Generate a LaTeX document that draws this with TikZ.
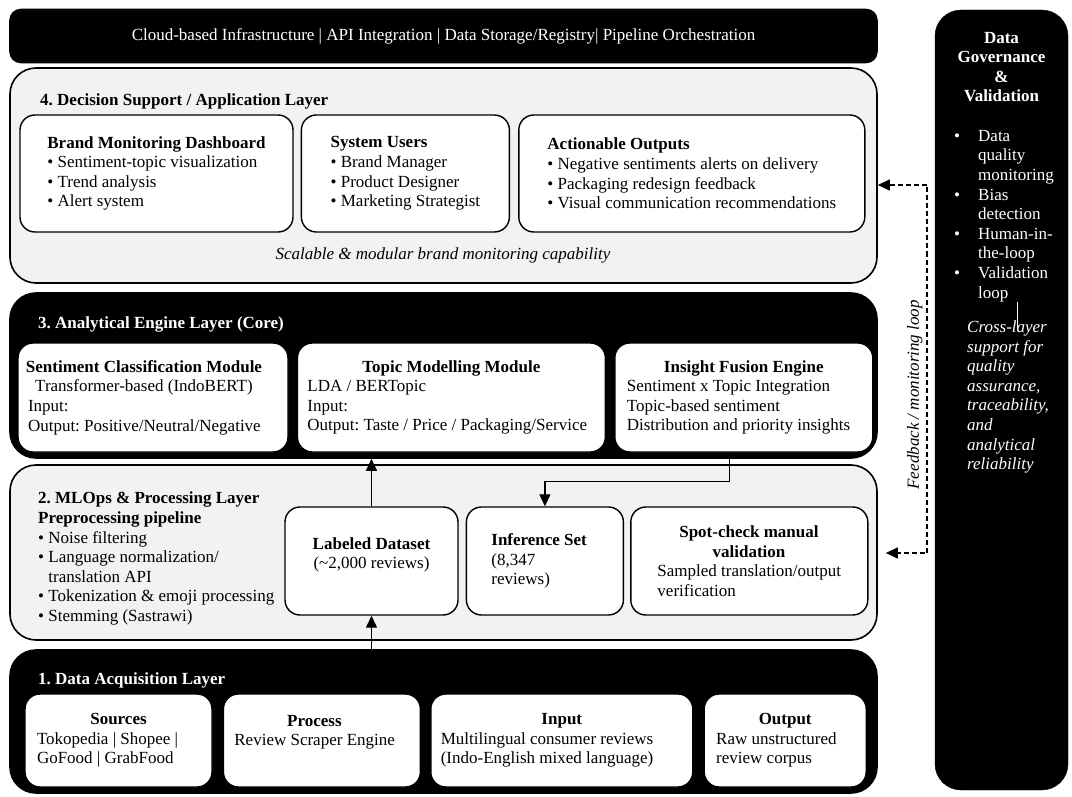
\documentclass[tikz,border=0pt]{standalone}
\usepackage{fontspec}
\setmainfont{Liberation Serif}
\usetikzlibrary{arrows.meta, positioning}
\definecolor{colLayer}{RGB}{242,242,242}
\frenchspacing
\newcommand\bodyfont{\fontsize{17pt}{19.6pt}\selectfont}
% centred bold heading in a box of given width
\newcommand\hd[2]{\makebox[#1]{\bfseries #2}}
\newcommand\bul{\textbullet\ }
\newcommand\gbul{\makebox[24pt][l]{\textbullet}}
\newcommand\gind{\hspace*{24pt}}
\tikzset{
  layerBox/.style={
    rectangle, rounded corners=26pt,
    draw=black, line width=1.6pt,
    minimum width=867pt
  },
  lightLayer/.style={layerBox, fill=colLayer},
  darkLayer/.style={layerBox, fill=black},
  modBox/.style={
    rectangle, rounded corners=15pt,
    draw=black, line width=1.4pt, fill=white,
    inner sep=0pt, align=left
  },
  layerTitle/.style={font=\bodyfont\bfseries, anchor=west, inner sep=0pt},
  arr/.style={
    -{Triangle[length=12pt, width=11pt]}, line width=1.3pt
  },
  fbArr/.style={
    {Triangle[length=12pt, width=11pt]}-{Triangle[length=12pt, width=11pt]},
    line width=1.2pt, dash pattern=on 5pt off 3pt
  },
  fbLabel/.style={font=\bodyfont\itshape, rotate=90, anchor=south, inner sep=4pt}
}
\begin{document}
\begin{tikzpicture}[x=1pt, y=-1pt, font=\bodyfont]
  \useasboundingbox (0,0) rectangle (1072,797);

  % infrastructure bar
  \node[darkLayer, rounded corners=11pt, minimum height=53pt, text=white] (infra) at (443.5,36)
    {Cloud-based Infrastructure | API Integration | Data Storage/Registry| Pipeline Orchestration};

  % layer 4
  \node[lightLayer, minimum height=215pt] (l4) at (443.5,175.5) {};
  \node[layerTitle] (l4title) at (40,101) {4. Decision Support / Application Layer};
  \node[modBox, minimum width=273pt, minimum height=117pt] (dash) at (156.5,173.5)
    {\textbf{Brand Monitoring Dashboard}\\\bul Sentiment-topic visualization\\\bul Trend analysis\\\bul Alert system};
  \node[modBox, minimum width=208pt, minimum height=117pt, right=7pt of dash] (users)
    {\textbf{System Users}\\\bul Brand Manager\\\bul Product Designer\\\bul Marketing Strategist};
  \node[modBox, minimum width=346pt, minimum height=117pt, right=8pt of users] (outputs)
    {\textbf{Actionable Outputs}\\\bul Negative sentiments alerts on delivery\\\bul Packaging redesign feedback\\\bul Visual communication recommendations};
  \node[font=\bodyfont\itshape] (l4note) at (443,255) {Scalable \& modular brand monitoring capability};

  % layer 3
  \node[darkLayer, minimum height=165pt] (l3) at (443.5,375.5) {};
  \node[layerTitle, text=white] (l3title) at (38,324) {3. Analytical Engine Layer (Core)};
  \node[modBox, minimum width=270pt, minimum height=109pt] (senti) at (153,397.5)
    {\makebox[250pt][l]{\hd{232pt}{Sentiment Classification Module}}\\\makebox[232pt]{Transformer-based (IndoBERT)}\\Input:\\Output: Positive/Neutral/Negative};
  \node[modBox, minimum width=308pt, minimum height=109pt, right=8pt of senti] (topic)
    {\hd{288pt}{Topic Modelling Module}\\LDA / BERTopic\\Input:\\Output: Taste / Price / Packaging/Service};
  \node[modBox, minimum width=258pt, minimum height=109pt, right=8pt of topic] (fusion)
    {\hd{234pt}{Insight Fusion Engine}\\Sentiment x Topic Integration\\Topic-based sentiment\\Distribution and priority insights};

  % layer 2
  \node[lightLayer, minimum height=175pt] (l2) at (443.5,552.5) {};
  \node[anchor=north west, inner sep=0pt, align=left] (prep) at (38,492)
    {\textbf{2. MLOps \& Processing Layer}\\\textbf{Preprocessing pipeline}\\\bul Noise filtering\\\bul Language normalization/\\\hphantom{\textbullet\ }translation API\\\bul Tokenization \& emoji processing\\\bul Stemming (Sastrawi)};
  \node[modBox, align=center, text depth=16pt, minimum width=173pt, minimum height=108pt] (labeled) at (371.5,561)
    {\textbf{Labeled Dataset}\\(\textasciitilde2,000 reviews)};
  \node[modBox, minimum width=157pt, minimum height=108pt, right=7pt of labeled] (infer)
    {\makebox[107pt][l]{\bfseries Inference Set}\\(8,347\\reviews)};
  \node[modBox, minimum width=237pt, minimum height=108pt, right=6pt of infer] (spot)
    {\hd{183pt}{Spot-check manual}\\\hd{183pt}{validation}\\Sampled translation/output\\verification};

  % layer 1
  \node[darkLayer, minimum height=143pt] (l1) at (443.5,721.5) {};
  \node[layerTitle, text=white] (l1title) at (38,680) {1. Data Acquisition Layer};
  \node[modBox, minimum width=187pt, minimum height=93pt] (src) at (118.5,740.5)
    {\hd{163pt}{Sources}\\Tokopedia | Shopee |\\GoFood | GrabFood};
  \node[modBox, text depth=20pt, minimum width=197pt, minimum height=93pt, right=10pt of src] (proc)
    {\makebox[175pt][l]{\hd{160pt}{Process}}\\Review Scraper Engine};
  \node[modBox, minimum width=262pt, minimum height=93pt, right=9pt of proc] (inp)
    {\hd{242pt}{Input}\\Multilingual consumer reviews\\(Indo-English mixed language)};
  \node[modBox, minimum width=162pt, minimum height=93pt, right=10pt of inp] (out)
    {\hd{138pt}{Output}\\Raw unstructured\\review corpus};

  % data flow
  \draw[arr] (labeled.south |- l1.north) -- (labeled.south);
  \draw[arr] (labeled.north) -- (labeled.north |- l3.south);
  \draw[arr] ([xshift=-14pt]fusion.south) |- ([yshift=25pt]infer.north) -- (infer.north);

  % governance panel
  \node[rectangle, rounded corners=26pt, draw=black, fill=black, minimum width=133pt, minimum height=780pt] (gov) at (1001.5,400) {};
  \node[font=\bodyfont\bfseries, text=white, align=center] (govHead) at (1001.5,67)
    {Data\\Governance\\\&\\Validation};
  \node[text=white, anchor=north west, inner sep=0pt, align=left] (govList) at (954,130)
    {\gbul Data\\\gind quality\\\gind monitoring\\\gbul Bias\\\gind detection\\\gbul Human-in-\\\gind the-loop\\\gbul Validation\\\gind loop};
  \node[font=\bodyfont\itshape, text=white, anchor=north west, inner sep=0pt, align=left] (govNote) at (967,320.5)
    {Cross-layer\\support for\\quality\\assurance,\\traceability,\\and\\analytical\\reliability};
  \coordinate (govLine) at (1017,0);
  \draw[white, line width=0.7pt] (govLine |- govList.south) -- ([yshift=-7pt]govLine |- govNote.north);

  % feedback loop
  \coordinate (fbTop) at (927,185);
  \coordinate (fbBot) at (927,553);
  \draw[fbArr] (fbTop -| l4.east) -- (fbTop) -- node[fbLabel, pos=0.57] {Feedback / monitoring loop} (fbBot) -- ([xshift=8pt]fbBot -| l2.east);

\end{tikzpicture}
\end{document}
